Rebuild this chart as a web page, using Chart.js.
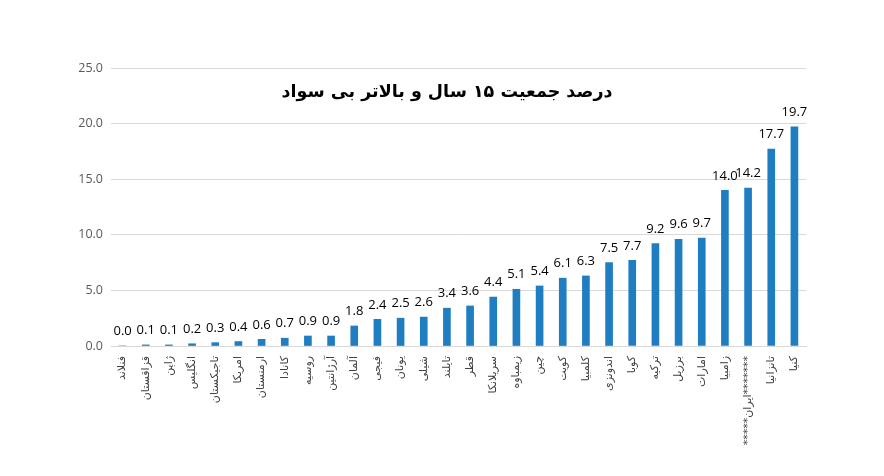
<!DOCTYPE html>
<html>
<head>
<meta charset="utf-8">
<script src="https://cdn.jsdelivr.net/npm/chart.js@4"></script>
<style>
  html, body { margin: 0; padding: 0; background: #fff; }
  #wrap { width: 884px; height: 476px; position: relative; }
</style>
</head>
<body>
<div id="wrap"><canvas id="chart1"></canvas></div>
<script>
// داده ها
const countries = ['فنلاند', 'قزاقستان', 'ژاپن', 'انگلیس', 'تاجیکستان', 'امریکا', 'ارمنستان', 'کانادا', 'روسیه', 'آرژانتین',
    'آلمان', 'فیجی', 'یونان', 'شیلی', 'تایلند', 'قطر', 'سریلانکا', 'زیمباوه', 'چین', 'کویت',
    'کلمبیا', 'اندونزی', 'کوبا', 'ترکیه', 'برزیل', 'امارات', 'زامبیا', '\u200E*****ایران*******\u200E', 'تانزانیا', 'کنیا'];
const illiteracy = [0.0, 0.1, 0.1, 0.2, 0.3, 0.4, 0.6, 0.7, 0.9, 0.9,
    1.8, 2.4, 2.5, 2.6, 3.4, 3.6, 4.4, 5.1, 5.4, 6.1,
    6.3, 7.5, 7.7, 9.2, 9.6, 9.7, 14.0, 14.2, 17.7, 19.7];
const yTicks = [0, 5, 10, 15, 20, 25];
const chartTitle = 'درصد جمعیت ۱۵ سال و بالاتر بی سواد';

// عنوان و برچسب مقادیر
const extras = {
    id: 'extras',
    afterDatasetsDraw(chart) {
        const ctx = chart.ctx;
        ctx.save();
        ctx.fillStyle = '#000';
        ctx.font = '13px "Open Sans"';
        ctx.textAlign = 'center';
        ctx.textBaseline = 'bottom';
        chart.getDatasetMeta(0).data.forEach((bar, i) => {
            ctx.fillText(illiteracy[i].toFixed(1), bar.x, bar.y - 8);
        });
        ctx.font = 'bold 17.5px "DejaVu Sans"';
        ctx.textBaseline = 'middle';
        ctx.fillText(chartTitle, 447, 92);
        ctx.restore();
    }
};

const ctx1 = document.getElementById('chart1').getContext('2d');
const chart1 = new Chart(ctx1, {
    type: 'bar',
    data: {
        labels: countries,
        datasets: [{
            data: illiteracy,
            backgroundColor: '#1F7EC2',
            barThickness: 7,
        }]
    },
    options: {
        responsive: true,
        maintainAspectRatio: false,
        animation: false,
        layout: { padding: { top: 68, right: 78, left: 0, bottom: 0 } },
        plugins: { legend: { display: false }, tooltip: { enabled: false } },
        scales: {
            x: {
                grid: { display: false, drawTicks: false },
                border: { color: '#d9d9d9' },
                ticks: {
                    autoSkip: false,
                    maxRotation: 90,
                    minRotation: 90,
                    padding: 10,
                    color: '#404040',
                    font: { family: 'DejaVu Sans', size: 11 }
                },
                afterFit(scale) { scale.height = 130; }
            },
            y: {
                min: 0,
                max: 25,
                afterBuildTicks(scale) { scale.ticks = yTicks.map(v => ({ value: v })); },
                grid: { color: '#d9d9d9', drawTicks: false },
                border: { display: false },
                ticks: {
                    padding: 8,
                    color: '#595959',
                    font: { family: 'Open Sans', size: 12.5 },
                    callback: v => v.toFixed(1)
                },
                afterFit(scale) { scale.width = 111; }
            }
        }
    },
    plugins: [extras]
});
</script>
</body>
</html>
